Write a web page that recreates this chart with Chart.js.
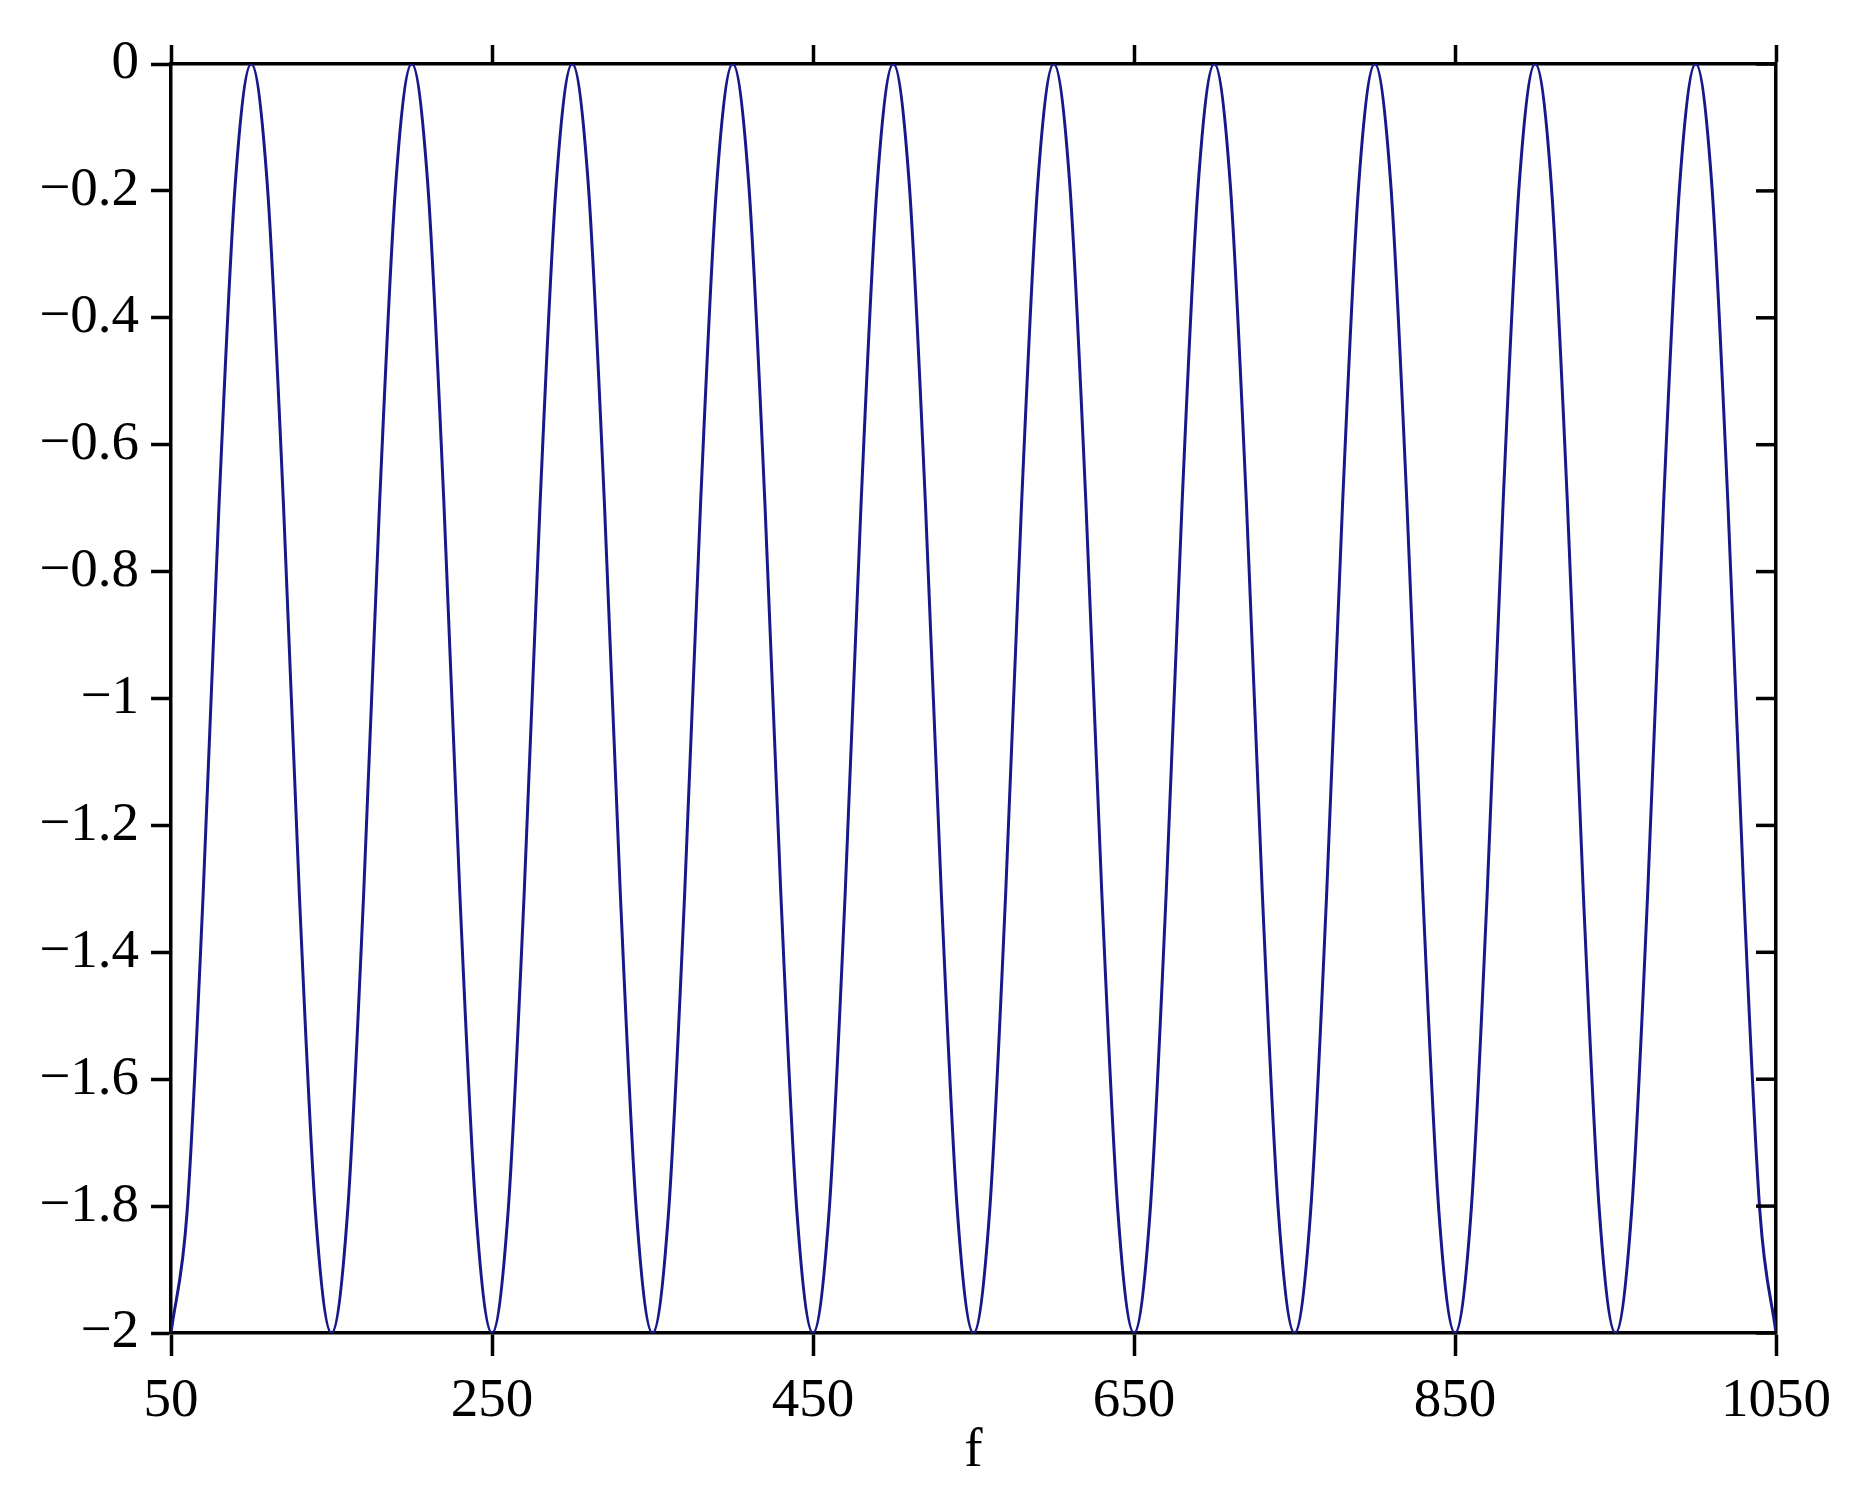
<!DOCTYPE html>
<html>
<head>
<meta charset="utf-8">
<script src="https://cdn.jsdelivr.net/npm/chart.js@4"></script>
<style>
    body { margin: 0; background: #fff; }
    #wrap { width: 1855px; height: 1485px; position: relative; }
</style>
</head>
<body>
<div id="wrap"><canvas id="chart"></canvas></div>
<script>
// values, f step of 10
const fValues = [
    50, 60, 70, 80, 90, 100, 110, 120, 130, 140,
    150, 160, 170, 180, 190, 200, 210, 220, 230, 240,
    250, 260, 270, 280, 290, 300, 310, 320, 330, 340,
    350, 360, 370, 380, 390, 400, 410, 420, 430, 440,
    450, 460, 470, 480, 490, 500, 510, 520, 530, 540,
    550, 560, 570, 580, 590, 600, 610, 620, 630, 640,
    650, 660, 670, 680, 690, 700, 710, 720, 730, 740,
    750, 760, 770, 780, 790, 800, 810, 820, 830, 840,
    850, 860, 870, 880, 890, 900, 910, 920, 930, 940,
    950, 960, 970, 980, 990, 1000, 1010, 1020, 1030, 1040,
    1050
];
const yValues = [
    -2, -1.81, -1.31, -0.69, -0.19, 0, -0.19, -0.69, -1.31, -1.81,
    -2, -1.81, -1.31, -0.69, -0.19, 0, -0.19, -0.69, -1.31, -1.81,
    -2, -1.81, -1.31, -0.69, -0.19, 0, -0.19, -0.69, -1.31, -1.81,
    -2, -1.81, -1.31, -0.69, -0.19, 0, -0.19, -0.69, -1.31, -1.81,
    -2, -1.81, -1.31, -0.69, -0.19, 0, -0.19, -0.69, -1.31, -1.81,
    -2, -1.81, -1.31, -0.69, -0.19, 0, -0.19, -0.69, -1.31, -1.81,
    -2, -1.81, -1.31, -0.69, -0.19, 0, -0.19, -0.69, -1.31, -1.81,
    -2, -1.81, -1.31, -0.69, -0.19, 0, -0.19, -0.69, -1.31, -1.81,
    -2, -1.81, -1.31, -0.69, -0.19, 0, -0.19, -0.69, -1.31, -1.81,
    -2, -1.81, -1.31, -0.69, -0.19, 0, -0.19, -0.69, -1.31, -1.81,
    -2
];

const xTickValues = [50, 250, 450, 650, 850, 1050];
const xTickLabels = ['50', '250', '450', '650', '850', '1050'];
const yTickValues = [-2, -1.8, -1.6, -1.4, -1.2, -1, -0.8, -0.6, -0.4, -0.2, 0];
const yTickLabels = ['\u22122', '\u22121.8', '\u22121.6', '\u22121.4', '\u22121.2', '\u22121',
                     '\u22120.8', '\u22120.6', '\u22120.4', '\u22120.2', '0'];

const FONT = { family: "'Liberation Serif', 'DejaVu Serif', serif", size: 55 };

function setTicks(values) {
    return function(scale) {
        scale.ticks = values.map(v => ({ value: v }));
    };
}

// right axis ticks point inward
const innerTicks = {
    id: 'innerTicks',
    afterDraw(chart) {
        const ctx = chart.ctx;
        const area = chart.chartArea;
        const y = chart.scales.y;
        ctx.save();
        ctx.strokeStyle = '#000';
        ctx.lineWidth = 3.5;
        y.ticks.forEach(t => {
            const py = y.getPixelForValue(t.value);
            ctx.beginPath();
            ctx.moveTo(area.right - 20, py);
            ctx.lineTo(area.right, py);
            ctx.stroke();
        });
        ctx.restore();
    }
};

const points = fValues.map((f, i) => ({ x: f, y: yValues[i] }));

new Chart(document.getElementById('chart'), {
    type: 'line',
    data: {
        datasets: [{
            data: points,
            borderColor: '#18188a',
            borderWidth: 3,
            pointRadius: 0,
            cubicInterpolationMode: 'monotone',
            fill: false
        }]
    },
    options: {
        responsive: true,
        maintainAspectRatio: false,
        animation: false,
        layout: { padding: 0 },
        plugins: {
            legend: { display: false },
            tooltip: { enabled: false }
        },
        scales: {
            x: {
                type: 'linear',
                position: 'bottom',
                min: 50,
                max: 1050,
                afterBuildTicks: setTicks(xTickValues),
                afterFit: s => { s.height = 152; },
                grid: { drawOnChartArea: false, tickLength: 23, tickWidth: 3.5, tickColor: '#000' },
                border: { display: true, color: '#000', width: 3.5 },
                ticks: {
                    color: '#000',
                    font: FONT,
                    padding: 13,
                    maxRotation: 0,
                    autoSkip: false,
                    callback: (v, i) => xTickLabels[i]
                },
                title: { display: true, text: 'f', color: '#000', font: FONT, padding: { top: -32, bottom: 0 } }
            },
            xTop: {
                type: 'linear',
                position: 'top',
                min: 50,
                max: 1050,
                afterBuildTicks: setTicks(xTickValues),
                afterFit: s => { s.height = 64; },
                grid: { drawOnChartArea: false, tickLength: 19, tickWidth: 3.5, tickColor: '#000' },
                border: { display: true, color: '#000', width: 3.5 },
                ticks: { display: false }
            },
            y: {
                type: 'linear',
                position: 'left',
                min: -2,
                max: 0,
                afterBuildTicks: setTicks(yTickValues),
                afterFit: s => { s.width = 171; },
                grid: { drawOnChartArea: false, tickLength: 20, tickWidth: 3.5, tickColor: '#000' },
                border: { display: true, color: '#000', width: 3.5 },
                ticks: {
                    color: '#000',
                    font: FONT,
                    padding: 12,
                    autoSkip: false,
                    callback: (v, i) => yTickLabels[i]
                }
            },
            yRight: {
                type: 'linear',
                position: 'right',
                min: -2,
                max: 0,
                afterFit: s => { s.width = 79; },
                grid: { drawOnChartArea: false, drawTicks: false },
                border: { display: true, color: '#000', width: 3.5 },
                ticks: { display: false }
            }
        }
    },
    plugins: [innerTicks]
});
</script>
</body>
</html>
